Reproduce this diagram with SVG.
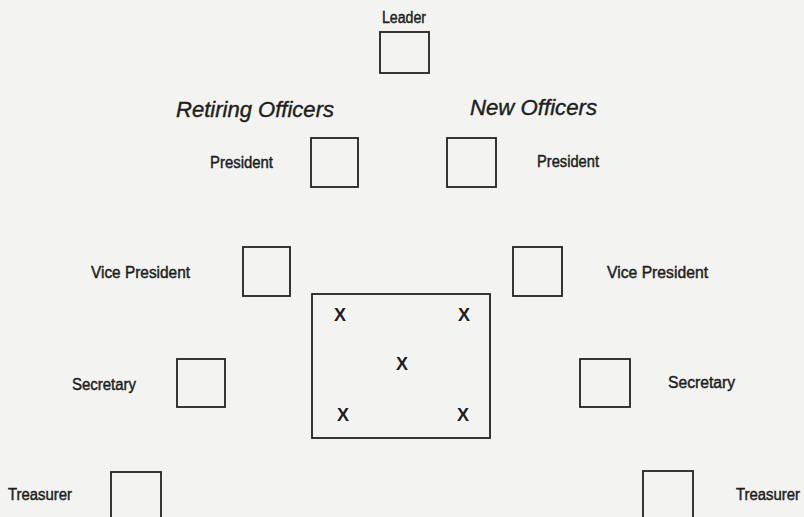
<svg xmlns="http://www.w3.org/2000/svg" width="804" height="517" viewBox="0 0 804 517">
<style>
.bg{fill:#f3f3f1}
.box{fill:none;stroke:#222;stroke-width:1.8}
.lbl{font-family:"Liberation Sans",Arial,sans-serif;font-size:16px;fill:#1e1e1e;stroke:#1e1e1e;stroke-width:0.45}
.head{font-family:"Liberation Sans",Arial,sans-serif;font-size:22px;font-style:italic;fill:#1e1e1e;stroke:#1e1e1e;stroke-width:0.4}
.mark{font-family:"Liberation Sans",Arial,sans-serif;font-size:18px;font-weight:bold;fill:#1e1e1e;text-anchor:middle}
</style>
<rect class="bg" x="0" y="0" width="804" height="517"/>
<g id="leader">
<text class="lbl" x="382" y="23" textLength="44" lengthAdjust="spacingAndGlyphs">Leader</text>
<rect class="box" x="380" y="32" width="49" height="41"/>
</g>
<g id="headings">
<text class="head" x="176" y="117" textLength="158" lengthAdjust="spacingAndGlyphs">Retiring Officers</text>
<text class="head" x="470" y="115" textLength="127" lengthAdjust="spacingAndGlyphs">New Officers</text>
</g>
<g id="retiring-president">
<text class="lbl" x="210" y="168" textLength="63" lengthAdjust="spacingAndGlyphs">President</text>
<rect class="box" x="311" y="138" width="47" height="49"/>
</g>
<g id="new-president">
<rect class="box" x="447" y="138" width="49" height="49"/>
<text class="lbl" x="537" y="167" textLength="62" lengthAdjust="spacingAndGlyphs">President</text>
</g>
<g id="retiring-vice-president">
<text class="lbl" x="91" y="278" textLength="99" lengthAdjust="spacingAndGlyphs">Vice President</text>
<rect class="box" x="243" y="247" width="47" height="49"/>
</g>
<g id="new-vice-president">
<rect class="box" x="513" y="247" width="49" height="49"/>
<text class="lbl" x="607" y="278" textLength="101" lengthAdjust="spacingAndGlyphs">Vice President</text>
</g>
<g id="retiring-secretary">
<text class="lbl" x="72" y="390" textLength="64" lengthAdjust="spacingAndGlyphs">Secretary</text>
<rect class="box" x="177" y="359" width="48" height="48"/>
</g>
<g id="new-secretary">
<rect class="box" x="580" y="359" width="50" height="48"/>
<text class="lbl" x="668" y="388" textLength="67" lengthAdjust="spacingAndGlyphs">Secretary</text>
</g>
<g id="retiring-treasurer">
<text class="lbl" x="8" y="500" textLength="64" lengthAdjust="spacingAndGlyphs">Treasurer</text>
<rect class="box" x="111" y="472" width="50" height="60"/>
</g>
<g id="new-treasurer">
<rect class="box" x="643" y="471" width="50" height="60"/>
<text class="lbl" x="736" y="500" textLength="64" lengthAdjust="spacingAndGlyphs">Treasurer</text>
</g>
<g id="table">
<rect class="box" x="312" y="294" width="178" height="144"/>
<text class="mark" x="340" y="321">X</text>
<text class="mark" x="464" y="321">X</text>
<text class="mark" x="402" y="370">X</text>
<text class="mark" x="343" y="421">X</text>
<text class="mark" x="463" y="421">X</text>
</g>
<g id="connectors"/>
</svg>
